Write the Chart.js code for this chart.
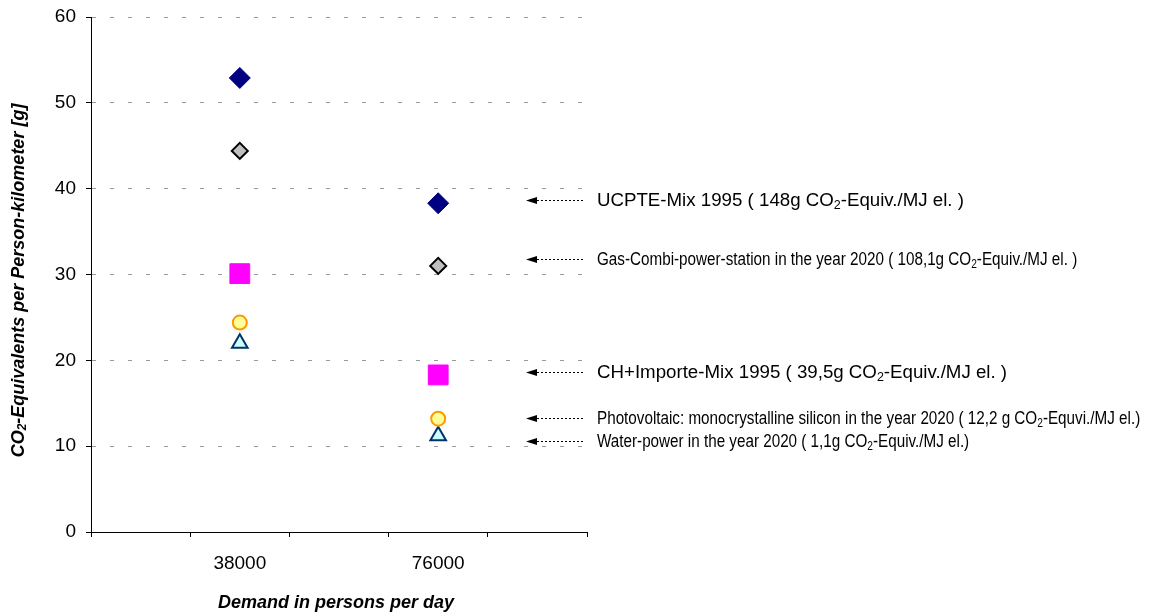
<!DOCTYPE html>
<html><head><meta charset="utf-8">
<script src="https://cdn.jsdelivr.net/npm/chart.js@4/dist/chart.umd.min.js"></script>
<style>html,body{margin:0;padding:0;background:#fff}#wrap{width:1151px;height:614px}</style>
</head><body><div id="wrap"><canvas id="c" width="1151" height="614"></canvas></div>
<script>
// ---- data ----
const categories = ['38000', '76000'];
const ucpte = [52.9, 38.3];
const gasCombi = [44.4, 31.0];
const chImport = [30.1, 18.3];
const photovoltaic = [24.4, 13.2];
const waterPower = [22.0, 11.2];
const yTicks = [0, 10, 20, 30, 40, 50, 60];
const xTitle = 'Demand in persons per day';
const yTitleParts = ['CO', '-Equivalents per Person-kilometer [g]'];
const annotationParts = [
  ['UCPTE-Mix 1995 ( 148g CO', '-Equiv./MJ el. )'],
  ['Gas-Combi-power-station in the year 2020 ( 108,1g CO', '-Equiv./MJ el. )'],
  ['CH+Importe-Mix 1995 ( 39,5g CO', '-Equiv./MJ el. )'],
  ['Photovoltaic: monocrystalline silicon in the year 2020 ( 12,2 g CO', '-Equvi./MJ el.)'],
  ['Water-power in the year 2020 ( 1,1g CO', '-Equiv./MJ el.)']
];
const annotationValues = [38.7, 31.8, 18.6, 13.3, 10.6];
const annotationNarrow = [false, true, false, true, true];

// category slots: blank, 38000, blank, 76000, blank
const slots = ['', categories[0], '', categories[1], ''];
const spread = v => [null, v[0], null, v[1], null];

function drawSubText(ctx, x, y, parts, font, subFont, subDy) {
  ctx.font = font;
  ctx.fillText(parts[0], x, y);
  let w = ctx.measureText(parts[0]).width;
  ctx.font = subFont;
  ctx.fillText('2', x + w, y + subDy);
  w += ctx.measureText('2').width;
  ctx.font = font;
  ctx.fillText(parts[1], x + w, y);
}
function subTextWidth(ctx, parts, font, subFont) {
  ctx.font = font;
  let w = ctx.measureText(parts[0]).width + ctx.measureText(parts[1]).width;
  ctx.font = subFont;
  return w + ctx.measureText('2').width;
}

const overlay = {
  id: 'overlay',
  afterDraw(chart) {
    const ctx = chart.ctx;
    const ys = chart.scales.y;
    const area = chart.chartArea;
    ctx.save();
    ctx.fillStyle = '#000';
    ctx.strokeStyle = '#000';
    // annotations
    annotationParts.forEach((parts, i) => {
      const y = Math.round(ys.getPixelForValue(annotationValues[i])) + 0.5;
      const tip = area.right - 61;
      ctx.beginPath();
      ctx.moveTo(tip, y);
      ctx.lineTo(tip + 11, y - 3.5);
      ctx.lineTo(tip + 11, y + 3.5);
      ctx.closePath();
      ctx.fill();
      ctx.save();
      ctx.lineWidth = 1;
      ctx.setLineDash([2, 2]);
      ctx.beginPath();
      ctx.moveTo(tip + 11, y);
      ctx.lineTo(area.right - 4, y);
      ctx.stroke();
      ctx.restore();
      ctx.textBaseline = 'middle';
      ctx.textAlign = 'left';
      const font = '18.7px "Liberation Sans", Arial';
      const subFont = '12.5px "Liberation Sans", Arial';
      ctx.save();
      ctx.translate(area.right + 10, y);
      if (annotationNarrow[i]) ctx.scale(0.815, 1);
      drawSubText(ctx, 0, 0, parts, font, subFont, 5);
      ctx.restore();
    });
    // x title
    ctx.textAlign = 'center';
    ctx.textBaseline = 'middle';
    ctx.font = 'italic bold 18px "Liberation Sans", Arial';
    ctx.fillText(xTitle, 336, 603);
    // y title (rotated)
    ctx.save();
    ctx.translate(19, (area.top + area.bottom) / 2 + 6);
    ctx.rotate(-Math.PI / 2);
    ctx.textAlign = 'left';
    const f = 'italic bold 18px "Liberation Sans", Arial';
    const sf = 'italic bold 12px "Liberation Sans", Arial';
    const w = subTextWidth(ctx, yTitleParts, f, sf);
    drawSubText(ctx, -w / 2, 0, yTitleParts, f, sf, 4);
    ctx.restore();
    ctx.restore();
  }
};

const tickFont = {family: '"Liberation Sans", Arial', size: 19};

new Chart(document.getElementById('c'), {
  type: 'line',
  data: {
    labels: slots,
    datasets: [
      {label: 'UCPTE-Mix 1995', data: spread(ucpte), showLine: false, pointStyle: 'rectRot', pointRadius: 10.5, backgroundColor: '#000080', borderColor: '#000080', borderWidth: 1},
      {label: 'Gas-Combi 2020', data: spread(gasCombi), showLine: false, pointStyle: 'rectRot', pointRadius: 8, backgroundColor: '#C0C0C0', borderColor: '#000000', borderWidth: 2},
      {label: 'CH+Importe-Mix 1995', data: spread(chImport), showLine: false, pointStyle: 'rect', pointRadius: 14, backgroundColor: '#FF00FF', borderColor: '#FF00FF', borderWidth: 1},
      {label: 'Photovoltaic 2020', data: spread(photovoltaic), showLine: false, pointStyle: 'circle', pointRadius: 7, backgroundColor: '#FFFF99', borderColor: '#FF9900', borderWidth: 2},
      {label: 'Water-power 2020', data: spread(waterPower), showLine: false, pointStyle: 'triangle', pointRadius: 9, backgroundColor: '#CCFFFF', borderColor: '#003366', borderWidth: 2}
    ]
  },
  options: {
    responsive: false,
    animation: false,
    events: [],
    layout: {padding: {top: 17, right: 564, left: 0, bottom: 0}},
    plugins: {legend: {display: false}, tooltip: {enabled: false}},
    scales: {
      x: {
        offset: true,
        grid: {offset: true, drawOnChartArea: false, tickLength: 5, color: '#000'},
        border: {color: '#000', width: 1},
        ticks: {autoSkip: false, maxRotation: 0, padding: 15, font: tickFont, color: '#000'},
        afterFit(s) { s.height = 82; s.paddingLeft = 0; s.paddingRight = 0; }
      },
      y: {
        min: 0, max: 60,
        afterBuildTicks(s) { s.ticks = yTicks.map(v => ({value: v})); },
        grid: {tickLength: 5, tickColor: '#000', color: c => (c.tick && c.tick.value === 0) ? 'rgba(0,0,0,0)' : '#999999', lineWidth: 1},
        border: {color: '#000', width: 1, dash: [4, 14]},
        ticks: {padding: 10, font: tickFont, color: '#000'},
        afterFit(s) { s.width = 91; s.paddingTop = 0; s.paddingBottom = 0; }
      }
    }
  },
  plugins: [overlay]
});
</script>
</body></html>
